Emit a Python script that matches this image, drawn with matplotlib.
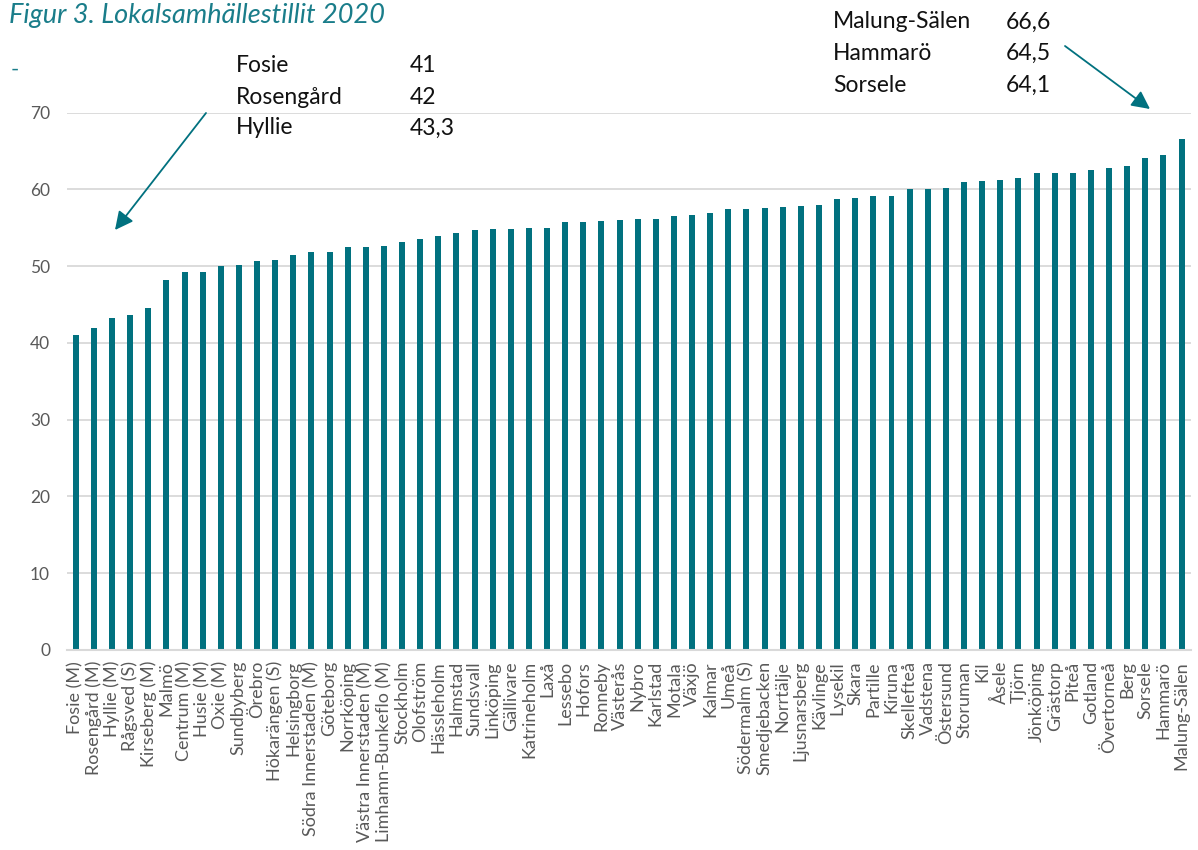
import matplotlib
matplotlib.use('Agg')
import matplotlib.pyplot as plt
import numpy as np

# ── Data ─────────────────────────────────────────────────────────────────────
areas = [
    "Fosie (M)", "Rosengård (M)", "Hyllie (M)", "Rågsved (S)", "Kirseberg (M)",
    "Malmö", "Centrum (M)", "Husie (M)", "Oxie (M)", "Sundbyberg", "Örebro",
    "Hökarängen (S)", "Helsingborg", "Södra Innerstaden (M)", "Göteborg",
    "Norrköping", "Västra Innerstaden (M)", "Limhamn-Bunkeflo (M)", "Stockholm",
    "Olofström", "Hässleholm", "Halmstad", "Sundsvall", "Linköping", "Gällivare",
    "Katrineholm", "Laxå", "Lessebo", "Hofors", "Ronneby", "Västerås", "Nybro",
    "Karlstad", "Motala", "Växjö", "Kalmar", "Umeå", "Södermalm (S)",
    "Smedjebacken", "Norrtälje", "Ljusnarsberg", "Kävlinge", "Lysekil", "Skara",
    "Partille", "Kiruna", "Skellefteå", "Vadstena", "Östersund", "Storuman",
    "Kil", "Åsele", "Tjörn", "Jönköping", "Grästorp", "Piteå", "Gotland",
    "Övertorneå", "Berg", "Sorsele", "Hammarö", "Malung-Sälen",
]
trust = [
    41.0, 42.0, 43.3, 43.7, 44.5,
    48.2, 49.2, 49.3, 50.0, 50.2, 50.7,
    50.8, 51.5, 51.8, 51.9,
    52.5, 52.5, 52.6, 53.1,
    53.5, 54.0, 54.3, 54.7, 54.8, 54.8,
    55.0, 55.0, 55.7, 55.7, 55.9, 56.0, 56.1,
    56.2, 56.6, 56.7, 56.9, 57.4, 57.5,
    57.6, 57.7, 57.9, 58.0, 58.8, 58.9,
    59.1, 59.1, 60.0, 60.1, 60.2, 61.0,
    61.1, 61.2, 61.5, 62.1, 62.1, 62.2, 62.6,
    62.8, 63.1, 64.1, 64.5, 66.6,
]
yticks = [0, 10, 20, 30, 40, 50, 60, 70]

low_names = ["Fosie", "Rosengård", "Hyllie"]
low_vals = ["41", "42", "43,3"]
high_names = ["Malung-Sälen", "Hammarö", "Sorsele"]
high_vals = ["66,6", "64,5", "64,1"]

# ── Style ────────────────────────────────────────────────────────────────────
TEAL = "#01717f"
GRID = "#d9d9d9"
LABEL = "#595959"
FONT = "Lato"
W, H = 1198, 850

plt.rcParams['font.family'] = [FONT, 'DejaVu Sans']

fig = plt.figure(figsize=(W / 100, H / 100), dpi=100)
ax = fig.add_axes([66.7 / W, 1 - 650 / H, (1190.6 - 66.7) / W, (650 - 112.7) / H])

x = np.arange(len(areas))
ax.bar(x, trust, width=0.33, color=TEAL, zorder=3)

ax.set_xlim(-0.5, len(areas) - 0.5)
ax.set_ylim(0, 70)
ax.set_yticks(yticks)
ax.set_yticklabels([str(v) for v in yticks])
ax.set_xticks(x)
ax.set_xticklabels(areas, rotation=90)

ax.grid(axis='y', color=GRID, linewidth=1.3, zorder=0)
for s in ['top', 'right', 'left']:
    ax.spines[s].set_visible(False)
ax.spines['bottom'].set_color(GRID)
ax.spines['bottom'].set_linewidth(1.5)
ax.spines['bottom'].set_zorder(4)
ax.tick_params(axis='y', length=0, pad=12, labelsize=12.5, labelcolor=LABEL)
ax.tick_params(axis='x', length=0, pad=8, labelsize=13, labelcolor=LABEL)


def fpos(px, py):
    """pixel position measured from top-left -> figure fraction"""
    return px / W, 1 - py / H


# ── Title ────────────────────────────────────────────────────────────────────
fig.text(*fpos(9, 16), "Figur 3. Lokalsamhällestillit 2020", color="#1a7d8a",
         fontsize=19.5, style='italic', va='center', ha='left')
fig.text(*fpos(11, 70), "-", color="#1a7d8a", fontsize=16, va='center', ha='left')

# ── Call-out boxes ───────────────────────────────────────────────────────────
for i, (n, v) in enumerate(zip(low_names, low_vals)):
    fig.text(*fpos(236, 66 + 31 * i), n, fontsize=16.5, color="#111111", va='center')
    fig.text(*fpos(410, 66 + 31 * i), v, fontsize=16.5, color="#111111", va='center')
for i, (n, v) in enumerate(zip(high_names, high_vals)):
    fig.text(*fpos(833, 22 + 31.5 * i), n, fontsize=16.5, color="#111111", va='center')
    fig.text(*fpos(1006, 22 + 31.5 * i), v, fontsize=16.5, color="#111111", va='center')

arrow = dict(arrowstyle="-|>,head_length=1.1,head_width=0.55", color=TEAL, lw=1.3,
             shrinkA=0, shrinkB=0)
ax.annotate("", xy=fpos(115, 230), xytext=fpos(206, 113),
            xycoords='figure fraction', textcoords='figure fraction', arrowprops=arrow)
ax.annotate("", xy=fpos(1150, 109), xytext=fpos(1065, 46),
            xycoords='figure fraction', textcoords='figure fraction', arrowprops=arrow)

fig.savefig("out.png", dpi=100)
